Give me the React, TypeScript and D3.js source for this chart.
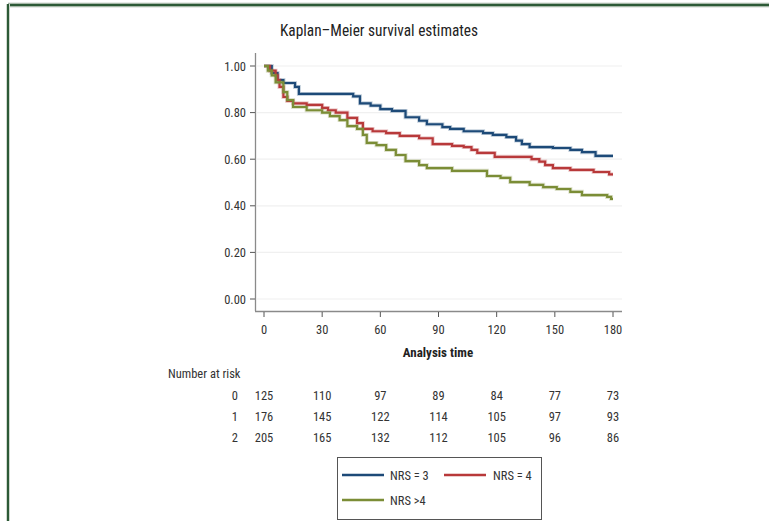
import React from "react";
import * as d3 from "d3";

const groups = ["NRS = 3", "NRS = 4", "NRS >4"];
const colors = ["#1d4a78", "#b8393a", "#7b8d36"];

const blueT = [0, 4, 7, 10, 16, 18, 46, 49.5, 55, 60, 66, 73, 80, 84, 92, 96, 103, 113, 118, 125, 130, 133, 137, 149, 158, 164, 171, 180];
const blueS = [1.0, 0.97, 0.94, 0.927, 0.91, 0.88, 0.87, 0.84, 0.83, 0.815, 0.807, 0.78, 0.765, 0.75, 0.738, 0.73, 0.72, 0.712, 0.704, 0.695, 0.68, 0.665, 0.652, 0.648, 0.64, 0.63, 0.614, 0.614];

const redT = [0, 3, 6, 7, 8, 10, 12, 15, 22, 30, 33, 37, 43, 48, 51, 56, 63, 70, 80, 87, 97, 103, 107, 110, 119, 138, 142, 145, 149, 158, 170, 178, 180];
const redS = [1.0, 0.98, 0.96, 0.94, 0.91, 0.867, 0.85, 0.84, 0.833, 0.82, 0.81, 0.8, 0.777, 0.755, 0.73, 0.72, 0.712, 0.7, 0.69, 0.665, 0.657, 0.652, 0.64, 0.627, 0.61, 0.6, 0.59, 0.575, 0.562, 0.554, 0.545, 0.535, 0.535];

const greenT = [0, 2, 4, 6, 10, 12, 15, 22, 30, 34, 39, 43, 48, 51, 53, 58, 63, 68, 73, 80, 84, 97, 115, 122, 127, 137, 144, 151, 158, 164, 177, 179, 180];
const greenS = [1.0, 0.98, 0.96, 0.93, 0.888, 0.854, 0.824, 0.81, 0.8, 0.785, 0.768, 0.742, 0.73, 0.704, 0.67, 0.66, 0.64, 0.618, 0.592, 0.575, 0.562, 0.55, 0.528, 0.52, 0.502, 0.49, 0.48, 0.472, 0.46, 0.446, 0.438, 0.43, 0.43];

const seriesT = [blueT, redT, greenT];
const seriesS = [blueS, redS, greenS];

const xTicks = [0, 30, 60, 90, 120, 150, 180];
const yTicks = [0, 0.2, 0.4, 0.6, 0.8, 1.0];
const riskLabels = ["0", "1", "2"];
const risk0 = [125, 110, 97, 89, 84, 77, 73];
const risk1 = [176, 145, 122, 114, 105, 97, 93];
const risk2 = [205, 165, 132, 112, 105, 96, 86];
const riskRows = [risk0, risk1, risk2];

const FONT = "'Liberation Sans Narrow', 'Arial Narrow', 'Roboto Condensed', sans-serif";

export default function App() {
  const x = d3.scaleLinear().domain([0, 180]).range([264, 613]);
  const y = d3.scaleLinear().domain([0, 1]).range([299, 66]);
  const line = d3
    .line<[number, number]>()
    .x((d) => x(d[0]))
    .y((d) => y(d[1]))
    .curve(d3.curveStepAfter);

  const riskY = [400, 421, 442];

  return (
    <svg
      width={769}
      height={521}
      style={{ position: "absolute", left: 0, top: 0, background: "#fff" }}
      fontFamily={FONT}
    >
      {/* frame */}
      <line x1={8} x2={769} y1={5} y2={5} stroke="#cfd8cf" strokeWidth={5} />
      <line x1={8} x2={769} y1={5} y2={5} stroke="#2c5a36" strokeWidth={2.5} />
      <line x1={8} x2={8} y1={4} y2={521} stroke="#cfd8cf" strokeWidth={4} />
      <line x1={8} x2={8} y1={4} y2={521} stroke="#2c5a36" strokeWidth={2} />

      <text
        x={379}
        y={36}
        textAnchor="middle"
        fontSize={16.5}
        fill="#222"
        textLength={198}
        lengthAdjust="spacingAndGlyphs"
      >
        Kaplan–Meier survival estimates
      </text>

      {/* grid */}
      {yTicks.map((t) => (
        <line key={"g" + t} x1={257} x2={622} y1={y(t)} y2={y(t)} stroke="#f0f0f0" strokeWidth={1.2} />
      ))}

      {/* axes */}
      <line x1={255.5} x2={255.5} y1={53} y2={311} stroke="#8a8a8a" strokeWidth={1.3} />
      <line x1={255} x2={622} y1={311.5} y2={311.5} stroke="#8a8a8a" strokeWidth={1.3} />
      {yTicks.map((t) => (
        <g key={"y" + t}>
          <line x1={250} x2={255} y1={y(t)} y2={y(t)} stroke="#555" strokeWidth={1} />
          <text x={246} y={y(t) + 4.5} textAnchor="end" fontSize={12.5} fill="#333">
            {t.toFixed(2)}
          </text>
        </g>
      ))}
      {xTicks.map((t) => (
        <g key={"x" + t}>
          <line x1={x(t)} x2={x(t)} y1={312} y2={317} stroke="#555" strokeWidth={1} />
          <text x={x(t)} y={334} textAnchor="middle" fontSize={12.5} fill="#333">
            {t}
          </text>
        </g>
      ))}
      <text x={438} y={357} textAnchor="middle" fontSize={13} fontWeight="bold" fill="#222">
        Analysis time
      </text>

      {/* curves */}
      {seriesT.map((ts, i) => {
        const pts: [number, number][] = ts.map((t, j) => [t, seriesS[i][j]]);
        return (
          <g key={"c" + i}>
            <path d={line(pts) || ""} fill="none" stroke={colors[i]} strokeOpacity={0.25} strokeWidth={4} />
            <path d={line(pts) || ""} fill="none" stroke={colors[i]} strokeWidth={2.2} />
          </g>
        );
      })}

      {/* risk table */}
      <text x={168} y={378} fontSize={12.5} fill="#333">
        Number at risk
      </text>
      {riskRows.map((row, i) => (
        <g key={"r" + i}>
          <text x={238} y={riskY[i]} textAnchor="end" fontSize={12.5} fill="#333">
            {riskLabels[i]}
          </text>
          {row.map((v, j) => (
            <text key={j} x={x(xTicks[j])} y={riskY[i]} textAnchor="middle" fontSize={12.5} fill="#333">
              {v}
            </text>
          ))}
        </g>
      ))}

      {/* legend */}
      <rect x={337.5} y={457.5} width={204} height={62} fill="#fff" stroke="#555" strokeWidth={1} />
      {[
        [342, 475, 390],
        [444, 475, 493],
        [342, 500, 390],
      ].map(([lx, ly, tx], i) => (
        <g key={"l" + i}>
          <line x1={lx} x2={lx + 42} y1={ly} y2={ly} stroke={colors[i]} strokeWidth={2.5} />
          <text x={tx} y={ly + 4.5} fontSize={12.5} fill="#333">
            {groups[i]}
          </text>
        </g>
      ))}
    </svg>
  );
}
